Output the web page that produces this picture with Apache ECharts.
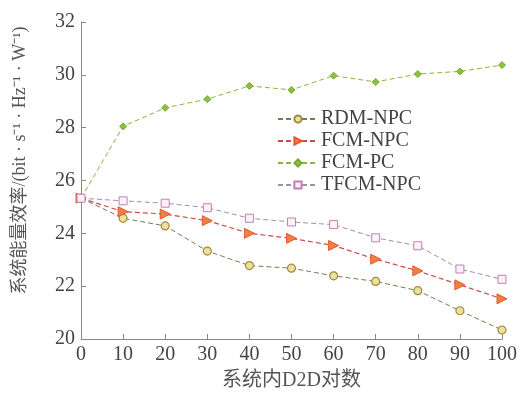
<!DOCTYPE html>
<html><head><meta charset="utf-8">
<script src="https://cdn.jsdelivr.net/npm/echarts@6/dist/echarts.min.js"></script>
<style>html,body{margin:0;padding:0;background:#fff}#c{width:521px;height:394px}</style>
</head><body><div id="c"></div>
<script>
var categories = [0, 10, 20, 30, 40, 50, 60, 70, 80, 90, 100];
var rdmNpc = [25.33, 24.57, 24.28, 23.33, 22.78, 22.68, 22.39, 22.18, 21.83, 21.07, 20.34];
var fcmNpc = [25.33, 24.82, 24.73, 24.48, 24.0, 23.81, 23.54, 23.02, 22.58, 22.05, 21.52];
var fcmPc = [25.33, 28.05, 28.75, 29.08, 29.58, 29.43, 29.97, 29.73, 30.03, 30.13, 30.37];
var tfcmNpc = [25.33, 25.23, 25.14, 24.97, 24.57, 24.43, 24.33, 23.83, 23.53, 22.65, 22.26];
var yTicks = [20, 22, 24, 26, 28, 30, 32];

function pairs(arr){ return arr.map(function(v,i){ return [categories[i], v]; }); }
var serif = '"Liberation Serif","Times New Roman","Noto Sans CJK SC",serif';
var chart = echarts.init(document.getElementById('c'));
chart.setOption({
  animation: false,
  backgroundColor: '#ffffff',
  grid: {left: 81, right: 19, top: 22, bottom: 55, outerBoundsMode: 'none', containLabel: false},
  legend: {
    left: 272, top: 104, orient: 'vertical', itemGap: 2, itemWidth: 40, itemHeight: 9,
    textStyle: {fontFamily: serif, fontSize: 20, color: '#444', padding: [0,0,0,-2]},
    data: ['RDM-NPC', 'FCM-NPC', 'FCM-PC', 'TFCM-NPC']
  },
  xAxis: {
    type: 'value', min: 0, max: 100, interval: 10,
    name: '系统内D2D对数', nameLocation: 'middle', nameGap: 32,
    nameTextStyle: {fontFamily: serif, fontSize: 20, color: '#555'},
    axisLine: {lineStyle: {color: '#888', width: 1}},
    axisTick: {inside: true, length: 5, lineStyle: {color: '#888'}},
    axisLabel: {fontFamily: serif, fontSize: 20, color: '#444', margin: 6},
    splitLine: {show: false}
  },
  yAxis: {
    type: 'value', min: yTicks[0], max: yTicks[yTicks.length-1], interval: 2,
    name: '系统能量效率/(bit · s⁻¹ · Hz⁻¹ · W⁻¹)', nameLocation: 'middle', nameGap: 52,
    nameTextStyle: {fontFamily: serif, fontSize: 18, color: '#555', padding: [0, 0, 0, 40]},
    axisLine: {show: true, lineStyle: {color: '#888', width: 1}},
    axisTick: {show: true, inside: true, length: 5, lineStyle: {color: '#888'}},
    axisLabel: {fontFamily: serif, fontSize: 20, color: '#444', margin: 6},
    splitLine: {show: false}
  },
  series: [
    {name: 'RDM-NPC', type: 'line', data: pairs(rdmNpc), symbol: 'circle', symbolSize: 8,
     lineStyle: {color: '#7a7a50', width: 1, type: [5, 3]},
     itemStyle: {color: '#ece0a0', borderColor: '#a08c3c', borderWidth: 1.2}},
    {name: 'FCM-NPC', type: 'line', data: pairs(fcmNpc), symbol: 'triangle', symbolSize: 10, symbolRotate: -90,
     lineStyle: {color: '#d04848', width: 1.2, type: [5, 3]},
     itemStyle: {color: '#f08040', borderColor: '#e05a30', borderWidth: 1}},
    {name: 'FCM-PC', type: 'line', data: pairs(fcmPc), symbol: 'diamond', symbolSize: 7,
     lineStyle: {color: '#8ab83a', width: 1, type: [5, 3]},
     itemStyle: {color: '#8cc040', borderColor: '#7aa830', borderWidth: 1}},
    {name: 'TFCM-NPC', type: 'line', data: pairs(tfcmNpc), symbol: 'rect', symbolSize: 8,
     lineStyle: {color: '#a090a8', width: 1, type: [5, 3]},
     itemStyle: {color: '#fbf2f8', borderColor: '#c080b0', borderWidth: 1}}
  ]
});
</script></body></html>
